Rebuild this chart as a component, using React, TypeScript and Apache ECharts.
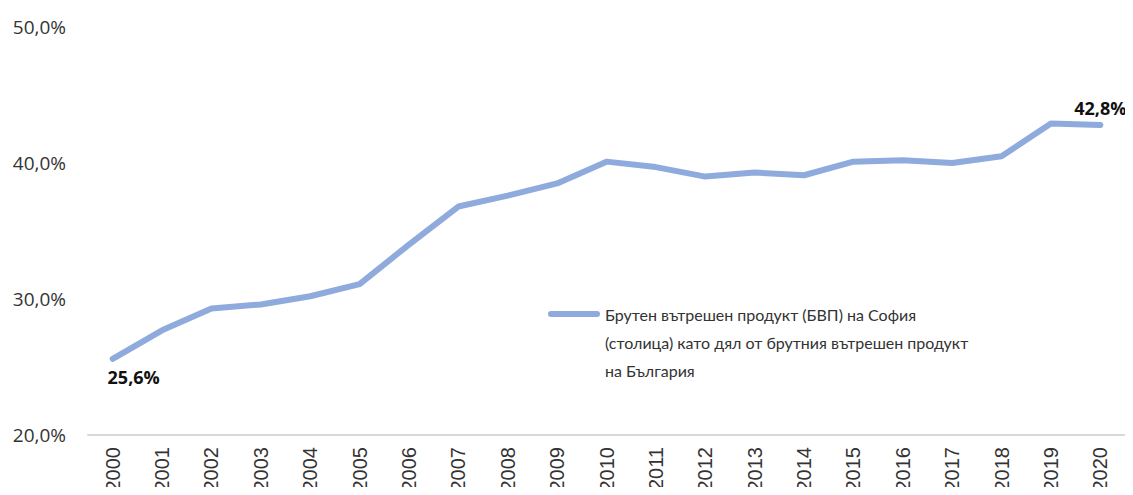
import React, { useEffect, useRef } from "react";
import * as echarts from "echarts";

const years = ["2000","2001","2002","2003","2004","2005","2006","2007","2008","2009","2010","2011","2012","2013","2014","2015","2016","2017","2018","2019","2020"];
const shares = [25.6,27.7,29.3,29.6,30.2,31.1,34.0,36.8,37.6,38.5,40.1,39.7,39.0,39.3,39.1,40.1,40.2,40.0,40.5,42.9,42.8];
const seriesName = "Брутен вътрешен продукт (БВП) на София (столица) като дял от брутния вътрешен продукт на България";
const legendLines = ["Брутен вътрешен продукт (БВП) на София", "(столица) като дял от брутния вътрешен продукт", "на България"];

const fmt = (v: number) => v.toFixed(1).replace(".", ",") + "%";
const COLOR = "#8faadc";

export default function App() {
  const ref = useRef<HTMLDivElement>(null);
  useEffect(() => {
    const chart = echarts.init(ref.current!, null, { renderer: "svg" });
    const last = shares.length - 1;
    chart.setOption({
      animation: false,
      grid: { left: 88, right: 8, top: 27, bottom: 60 },
      legend: { show: false, data: [seriesName] },
      graphic: [
        {
          type: "line",
          shape: { x1: 551, y1: 314, x2: 597, y2: 314 },
          style: { stroke: COLOR, lineWidth: 6, lineCap: "round" },
        },
        {
          type: "text",
          left: 605,
          top: 300,
          style: {
            text: legendLines.join("\n"),
            font: "16px Lato",
            fill: "#333",
            lineHeight: 28,
          },
        },
      ],
      xAxis: {
        type: "category",
        data: years,
        boundaryGap: true,
        axisLine: { lineStyle: { color: "#d9d9d9", width: 2 } },
        axisTick: { show: false },
        axisLabel: {
          rotate: 90,
          fontFamily: "Liberation Sans",
          fontSize: 20,
          color: "#333",
          margin: 12,
        },
      },
      yAxis: {
        type: "value",
        min: 20,
        max: 50,
        interval: 10,
        axisLine: { show: false },
        axisTick: { show: false },
        splitLine: { show: false },
        axisLabel: {
          formatter: (v: number) => fmt(v),
          fontFamily: "Open Sans",
          fontSize: 19,
          color: "#333",
          margin: 22,
        },
      },
      series: [
        {
          name: seriesName,
          type: "line",
          data: shares.map((v, i) => ({
            value: v,
            label: {
              show: i === 0 || i === last,
              position: i === 0 ? "bottom" : "top",
              distance: i === 0 ? 9 : 7,
              offset: i === 0 ? [21, 0] : [0, 0],
              formatter: () => fmt(i === last ? 42.8 : v),
              fontFamily: "Open Sans",
              fontWeight: "bold",
              fontSize: 18,
              color: "#111",
            },
          })),
          showSymbol: true,
          symbol: "circle",
          symbolSize: 1,
          lineStyle: { color: COLOR, width: 6, cap: "round", join: "round" },
          itemStyle: { color: COLOR },
        },
      ],
    });
    return () => chart.dispose();
  }, []);
  return <div ref={ref} style={{ width: 1133, height: 495, margin: -8 }} />;
}
